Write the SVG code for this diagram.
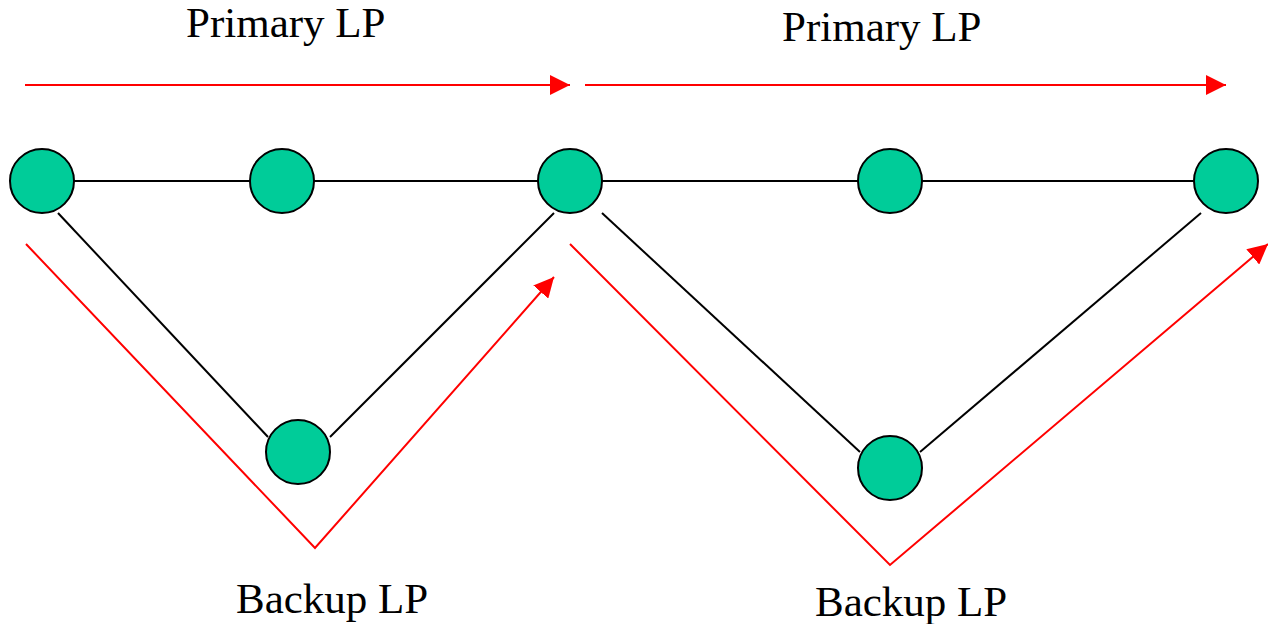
<svg xmlns="http://www.w3.org/2000/svg" width="1268" height="624" viewBox="0 0 1268 624">
  <style>
    .node { fill: #00CC99; stroke: #000; stroke-width: 2; }
    .link { stroke: #000; stroke-width: 2; fill: none; }
    .path { stroke: #FF0000; stroke-width: 2; fill: none; }
    .label { font-family: "Liberation Serif", "Times New Roman", serif; font-size: 43px; fill: #000; }
  </style>
  <defs>
    <marker id="redHead" viewBox="0 0 20 20" refX="20" refY="10" markerWidth="20" markerHeight="20" markerUnits="userSpaceOnUse" orient="auto">
      <path d="M0,0 L20,10 L0,20 Z" fill="#FF0000"/>
    </marker>
  </defs>
  <rect width="1268" height="624" fill="#fff"/>

  <!-- links between routers -->
  <g id="connectors">
    <line class="link" x1="74" y1="181" x2="250" y2="181"/>
    <line class="link" x1="314" y1="181" x2="538" y2="181"/>
    <line class="link" x1="602" y1="181" x2="858" y2="181"/>
    <line class="link" x1="922" y1="181" x2="1194" y2="181"/>
    <line class="link" x1="58" y1="213" x2="268" y2="437"/>
    <line class="link" x1="330" y1="437" x2="554" y2="213"/>
    <line class="link" x1="602" y1="213" x2="860" y2="452"/>
    <line class="link" x1="920" y1="452" x2="1201" y2="213"/>

    <!-- primary and backup light paths -->
    <line class="path" x1="25" y1="85" x2="570" y2="85" marker-end="url(#redHead)"/>
    <line class="path" x1="585" y1="85" x2="1226" y2="85" marker-end="url(#redHead)"/>
    <polyline class="path" points="26,244 315,548 554,277" marker-end="url(#redHead)"/>
    <polyline class="path" points="570,244 890,565 1268,244" marker-end="url(#redHead)"/>
  </g>

  <g id="n1"><circle class="node" cx="42" cy="181" r="32"/></g>
  <g id="n2"><circle class="node" cx="282" cy="181" r="32"/></g>
  <g id="n3"><circle class="node" cx="570" cy="181" r="32"/></g>
  <g id="n4"><circle class="node" cx="298" cy="452" r="32"/></g>
  <g id="n5"><circle class="node" cx="890" cy="181" r="32"/></g>
  <g id="n6"><circle class="node" cx="1226" cy="181" r="32"/></g>
  <g id="n7"><circle class="node" cx="890" cy="468" r="32"/></g>

  <g id="labels">
    <text class="label" x="186" y="37">Primary LP</text>
    <text class="label" x="782" y="41">Primary LP</text>
    <text class="label" x="236" y="613">Backup LP</text>
    <text class="label" x="815" y="616">Backup LP</text>
  </g>
</svg>
